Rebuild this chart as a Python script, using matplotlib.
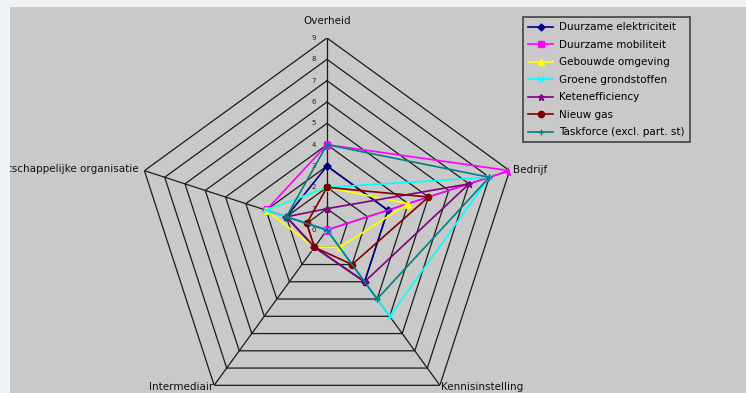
import numpy as np
import matplotlib
matplotlib.use('Agg')
import matplotlib.pyplot as plt
from matplotlib.patches import Rectangle

plt.rcParams['font.family'] = ['DejaVu Sans']

# axes of the radar, clockwise from the top
categories = ['Overheid', 'Bedrijf', 'Kennisinstelling', 'Intermediair',
              'Maatschappelijke organisatie']
ticks = [0, 1, 2, 3, 4, 5, 6, 7, 8, 9]

# scores per platform
duurzame_elektriciteit = [3, 3, 3, 1, 2]
duurzame_mobiliteit = [4, 9, 0, 0, 3]
gebouwde_omgeving = [2, 4, 1, 1, 3]
groene_grondstoffen = [2, 8, 5, 0, 3]
ketenefficiency = [1, 7, 3, 1, 2]
nieuw_gas = [2, 5, 2, 1, 1]
taskforce = [4, 8, 4, 0, 2]

series_names = ['Duurzame elektriciteit', 'Duurzame mobiliteit',
                'Gebouwde omgeving', 'Groene grondstoffen', 'Ketenefficiency',
                'Nieuw gas', 'Taskforce (excl. part. st)']
series = [duurzame_elektriciteit, duurzame_mobiliteit, gebouwde_omgeving,
          groene_grondstoffen, ketenefficiency, nieuw_gas, taskforce]

# excel 2003 default look
colors = ['#000080', '#ff00ff', '#ffff00', '#00ffff', '#800080', '#800000', '#008080']
markers = ['D', 's', '^', 'x', '*', 'o', '+']
msizes = [3.5, 4, 4.5, 4, 5, 4.5, 5]

W, H = 746, 393
fig = plt.figure(figsize=(W/100, H/100), dpi=100)
fig.patch.set_facecolor('#eef2f5')
bg = Rectangle((10/W, 0), (W-10)/W, (H-7)/H, transform=fig.transFigure,
               facecolor='#c9c9c9', edgecolor='none', zorder=0)
fig.add_artist(bg)

# center at (327, 230) px, radius 192 px
cx, cy, R = 327, 230, 192
ax = fig.add_axes([(cx-R)/W, (H-cy-R)/H, 2*R/W, 2*R/H], projection='polar')
ax.set_facecolor('none')
ax.set_theta_offset(np.pi/2)
ax.set_theta_direction(-1)
ax.grid(False)
ax.spines['polar'].set_visible(False)
ax.set_xticks([])
ax.set_yticks([])
ax.set_ylim(0, ticks[-1])

n = len(categories)
angles = np.arange(n) * 2*np.pi/n
closed = np.append(angles, angles[0])

# pentagon grid
for r in ticks[1:]:
    ax.plot(closed, [r]*(n+1), color='#1a1a1a', lw=0.9, zorder=1)
for a in angles:
    ax.plot([a, a], [0, ticks[-1]], color='#1a1a1a', lw=0.9, zorder=1)

for r in ticks:
    ax.annotate(str(r), (0, r), xytext=(-8, 0), textcoords='offset points',
                ha='right', va='center', fontsize=5, color='#222222')

# category labels
lab_r = [9.8, 9.15, 9.1, 9.1, 9.3]
lab_ha = ['center', 'left', 'left', 'right', 'right']
for a, lab, rr, ha in zip(angles, categories, lab_r, lab_ha):
    t = ax.text(a, rr, lab, ha=ha, va='center', fontsize=7.5,
                color='#111111', clip_on=True)
    t.set_clip_path(bg)

for vals, name, c, m, ms in zip(series, series_names, colors, markers, msizes):
    ax.plot(closed, vals + vals[:1], color=c, lw=1.2, marker=m,
            markersize=ms, markeredgecolor=c, label=name, zorder=3)

handles, labels = ax.get_legend_handles_labels()
leg = fig.legend(handles, labels, loc='upper left',
                 bbox_to_anchor=(523/W, 1 - 17/H), borderaxespad=0,
                 fontsize=7.5, frameon=True, fancybox=False, handlelength=2.4,
                 labelspacing=0.72, borderpad=0.5, handletextpad=0.6)
leg.get_frame().set_edgecolor('#222222')
leg.get_frame().set_linewidth(1.2)
leg.get_frame().set_facecolor('#c9c9c9')

fig.savefig('out.png', dpi=100, facecolor=fig.get_facecolor())
